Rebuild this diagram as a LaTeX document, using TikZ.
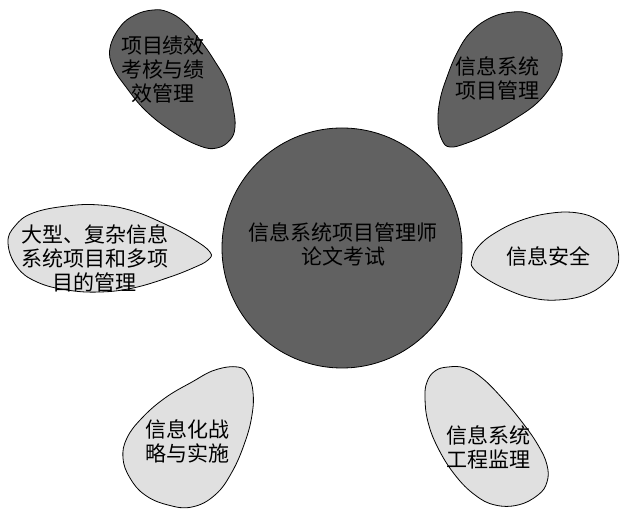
\documentclass[tikz,border=0pt]{standalone}
\usepackage{fontspec}
\newfontfamily\cjk{Noto Sans CJK SC}
\tikzset{
  dark/.style={draw=black, line width=0.8pt, fill=black!62},
  light/.style={draw=black, line width=0.8pt, fill=black!12},
  txt/.style={font=\cjk\fontsize{21}{24}\selectfont, align=center, inner sep=0pt},
}
\begin{document}
\begin{tikzpicture}[x=1pt,y=-1pt]
    \useasboundingbox (0,0) rectangle (622,510);

    % centre circle
    \draw[dark] (342,248) circle[radius=120pt];
    \node[txt] (core) at (343,244) {信息系统项目管理师\\论文考试};

    % dark eggs at the top
    \draw[dark] plot [smooth cycle,tension=0.7] coordinates {
      (120,27) (135,15) (153,10) (168,12) (184,22) (200,40) (214,60) (227,83)
      (233,107) (235,127) (230,140) (217,148) (200,146) (173,132) (146,111)
      (126,87) (113,67) (110,48) };
    \node[txt] (kpi) at (163,70) {项目绩效\\考核与绩\\效管理};

    \draw[dark] plot [smooth cycle,tension=0.7] coordinates {
      (513,12) (531,14) (547,23) (557,37) (562,51) (560,67) (553,83) (537,103)
      (513,120) (490,133) (467,143) (450,147) (442,140) (438,123) (440,100)
      (447,77) (457,53) (470,33) (490,18) };
    \node[txt] (pm) at (497,78) {信息系统\\项目管理};

    % light eggs
    \draw[light] plot [smooth cycle,tension=0.7] coordinates {
      (8,243) (15,226) (33,213) (67,206) (100,205) (133,211) (167,225)
      (193,239) (210,252) (208,260) (193,268) (167,278) (133,288) (100,292)
      (67,290) (37,282) (17,267) };
    \node[txt] (multi) at (95,258) {大型、复杂信息\\系统项目和多项\\目的管理};

    \draw[light] plot [smooth cycle,tension=0.7] coordinates {
      (472,260) (478,247) (495,233) (522,220) (552,213) (578,213) (598,220)
      (612,233) (618,250) (617,267) (605,283) (585,295) (558,300) (532,298)
      (508,290) (485,278) (473,268) };
    \node[txt] (sec) at (548,256) {信息安全};

    \draw[light] plot [smooth cycle,tension=0.7] coordinates {
      (238,367) (248,375) (253,392) (252,415) (245,442) (232,472) (215,495)
      (192,507) (168,505) (145,495) (130,478) (123,458) (127,438) (142,418)
      (165,398) (192,382) (215,370) };
    \node[txt] (strat) at (187,441) {信息化战\\略与实施};

    \draw[light] plot [smooth cycle,tension=0.7] coordinates {
      (435,371) (448,367) (465,368) (482,378) (502,398) (522,422) (538,445)
      (547,465) (547,482) (538,495) (518,505) (495,505) (475,495) (455,475)
      (438,448) (428,422) (425,398) (427,382) };
    \node[txt] (sup) at (488,447) {信息系统\\工程监理};
\end{tikzpicture}
\end{document}
